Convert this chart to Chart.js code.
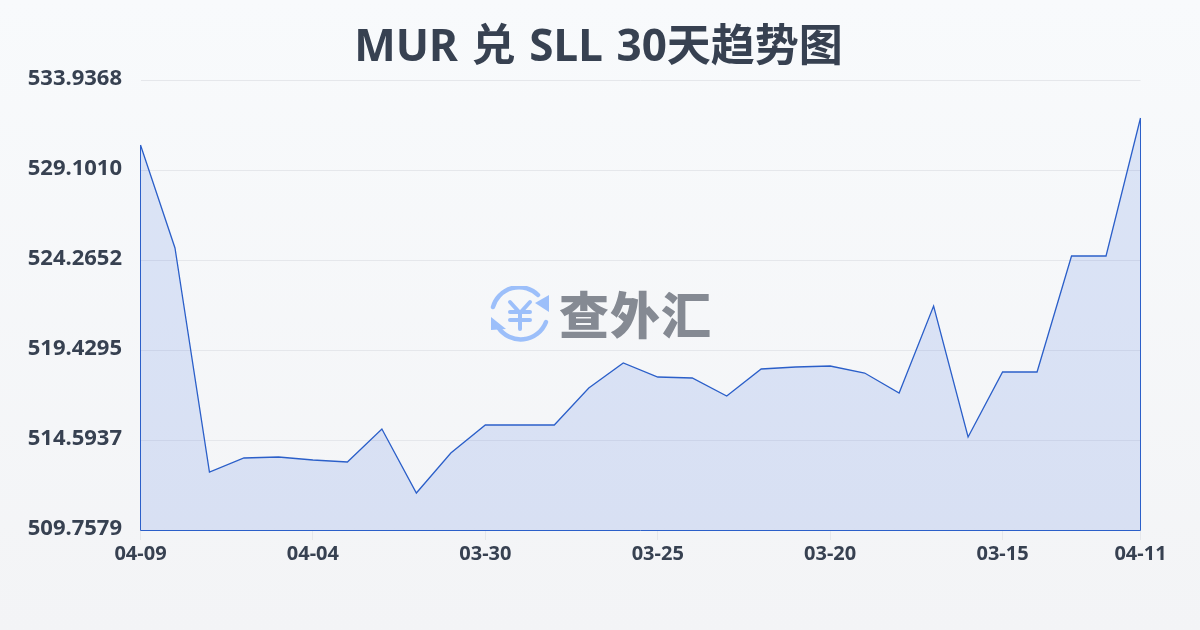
<!DOCTYPE html>
<html lang="zh">
<head>
<meta charset="utf-8">
<script src="https://cdn.jsdelivr.net/npm/chart.js@4"></script>
<style>
html,body{margin:0;padding:0;width:1200px;height:630px;overflow:hidden;background:linear-gradient(180deg,#f8fafc 0%,#f3f4f6 100%);}
#wrap{position:relative;width:1200px;height:630px;}
canvas{position:absolute;left:0;top:0;}
#title{position:absolute;left:0;top:18px;width:1197px;margin:0;text-align:center;font:700 44px/52px "Noto Sans","Noto Sans CJK SC",sans-serif;color:#374151;word-spacing:2.3px;white-space:nowrap;}
#mark{position:absolute;left:489px;top:285px;width:230px;height:60px;pointer-events:none;}
#mark svg{position:absolute;left:0;top:1px;}
#mark span{position:absolute;left:70px;top:-8px;font:900 50px/70px "Noto Sans CJK SC";color:#858a93;letter-spacing:1px;white-space:nowrap;}
</style>
</head>
<body>
<div id="wrap">
<canvas id="c" width="1200" height="630"></canvas>
<h1 id="title"></h1>
<div id="mark">
<svg width="62" height="60" viewBox="0 0 62 60" fill="none">
<g stroke="#9cbffa" stroke-width="4.5" stroke-linecap="round">
<path d="M4 21 A27 27 0 0 1 49 9"/>
<path d="M57 36 A27 27 0 0 1 9 41"/>
<path d="M21 16 L31 27 L41 16 M31 27 V43 M21 26 H41 M21 34 H41" stroke-width="4"/>
</g>
<path d="M60 9 V26 L46 17 Z" fill="#9cbffa"/>
<path d="M2 31 L17 43 L2 44 Z" fill="#9cbffa"/>
</svg>
<span>查外汇</span>
</div>
</div>
<script>
const titleText = 'MUR 兑 SLL 30天趋势图';
const categories = ['04-09','04-08','04-07','04-06','04-05','04-04','04-03','04-02','04-01','03-31','03-30','03-29','03-28','03-27','03-26','03-25','03-24','03-23','03-22','03-21','03-20','03-19','03-18','03-17','03-16','03-15','03-14','03-13','03-12','04-11'];
const rates = [530.444,524.910,512.874,513.627,513.680,513.519,513.412,515.185,511.746,513.895,515.400,515.400,515.400,517.388,518.731,517.979,517.925,516.958,518.409,518.516,518.570,518.194,517.119,521.794,514.755,518.248,518.248,524.480,524.480,531.895];
const yTicks = [509.7579,514.59368,519.42946,524.26524,529.10102,533.9368];
const xTickLabels = ['04-09','04-04','03-30','03-25','03-20','03-15','04-11'];

document.getElementById('title').textContent = titleText;

const FONT = '"Noto Sans","Noto Sans CJK SC",sans-serif';
const INK = '#374151';
const LINE = '#2b5fc9';

const outline = {
  id: 'outline',
  afterDatasetsDraw(chart) {
    const pts = chart.getDatasetMeta(0).data;
    const base = Math.round(chart.scales.y.getPixelForValue(yTicks[0])) + 0.5;
    const c = chart.ctx;
    const l = Math.floor(pts[0].x) + 0.5;
    const r = Math.floor(pts[pts.length - 1].x) + 0.5;
    c.save();
    c.strokeStyle = LINE;
    c.lineWidth = 1;
    c.beginPath();
    c.moveTo(l, pts[0].y);
    c.lineTo(l, base);
    c.lineTo(r, base);
    c.lineTo(r, pts[pts.length - 1].y);
    c.stroke();
    c.restore();
  }
};

new Chart(document.getElementById('c'), {
  type: 'line',
  data: {
    labels: categories,
    datasets: [{
      data: rates,
      borderColor: LINE,
      borderWidth: 1.3,
      backgroundColor: 'rgba(59,109,224,0.15)',
      fill: 'start',
      pointRadius: 0,
      tension: 0
    }]
  },
  options: {
    responsive: false,
    animation: false,
    devicePixelRatio: 1,
    layout: { padding: { left: 0, right: 59.5, top: 80, bottom: 0 } },
    plugins: {
      legend: { display: false },
      tooltip: { enabled: false },
      title: { display: false }
    },
    scales: {
      x: {
        type: 'category',
        offset: false,
        afterBuildTicks(axis) {
          axis.ticks = axis.ticks.filter(t => xTickLabels.includes(categories[t.value]) && (t.value % 5 === 0 || t.value === categories.length - 1));
        },
        afterFit(axis) { axis.height = 100; },
        grid: { drawOnChartArea: false, drawTicks: true, tickLength: 10, color: '#e5e7eb' },
        border: { display: false },
        ticks: { autoSkip: false, maxRotation: 0, minRotation: 0, color: INK, padding: 2, font: { family: FONT, size: 20, weight: '700' } }
      },
      y: {
        min: yTicks[0],
        max: yTicks[yTicks.length - 1],
        afterBuildTicks(axis) { axis.ticks = yTicks.map(v => ({ value: v })); },
        afterFit(axis) {
          axis.width = 140.5;
          if (!axis._lifted) {
            const draw = axis.drawLabels;
            axis.drawLabels = function (area) {
              this.ctx.save();
              this.ctx.translate(0, -1);
              draw.call(this, area);
              this.ctx.restore();
            };
            axis._lifted = true;
          }
        },
        grid: { color: '#e5e7eb', drawTicks: false },
        border: { display: false },
        ticks: { color: INK, padding: 18.5, font: { family: FONT, size: 22, weight: '700' }, callback: v => Number(v).toFixed(4) }
      }
    }
  },
  plugins: [outline]
});
</script>
</body>
</html>
